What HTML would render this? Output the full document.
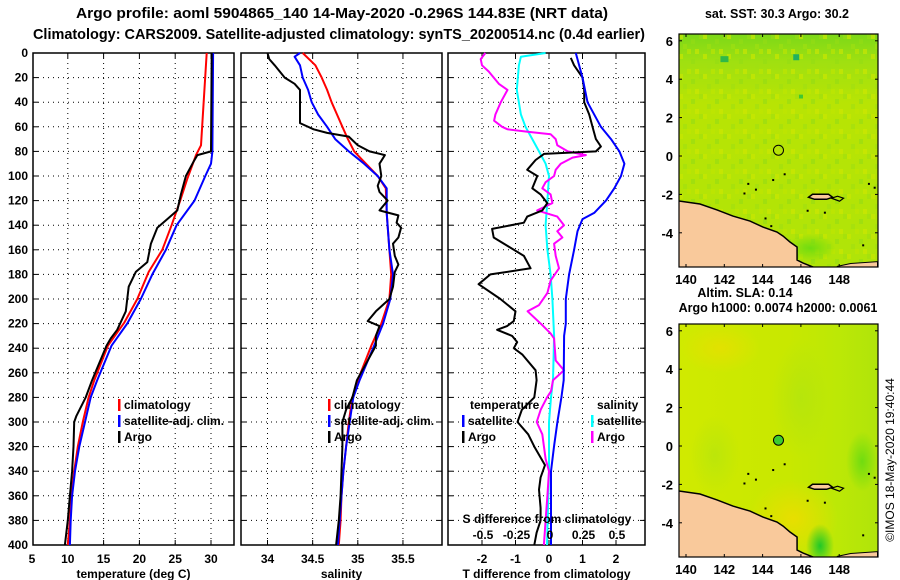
<!DOCTYPE html>
<html><head><meta charset="utf-8"><style>
body{margin:0;background:#fff;}
svg{display:block;font-family:"Liberation Sans",sans-serif;font-weight:bold;}
</style></head><body>
<svg id="c" width="900" height="580" viewBox="0 0 900 580">
<defs>
<clipPath id="cp1"><rect x="679" y="34" width="199" height="233"/></clipPath>
<clipPath id="cp2"><rect x="679" y="324" width="199" height="233"/></clipPath>
<radialGradient id="blob" cx="0.5" cy="0.5" r="0.5"><stop offset="0" stop-color="#20c828"/><stop offset="1" stop-color="#20c828" stop-opacity="0"/></radialGradient>
<radialGradient id="blob2" cx="0.5" cy="0.5" r="0.5"><stop offset="0" stop-color="#70dc10"/><stop offset="1" stop-color="#70dc10" stop-opacity="0"/></radialGradient>
<radialGradient id="blob3" cx="0.5" cy="0.5" r="0.5"><stop offset="0" stop-color="#f0dc00"/><stop offset="1" stop-color="#f0dc00" stop-opacity="0"/></radialGradient>
<radialGradient id="blob4" cx="0.5" cy="0.5" r="0.5"><stop offset="0" stop-color="#b0e410"/><stop offset="1" stop-color="#b0e410" stop-opacity="0"/></radialGradient>
<linearGradient id="topgr" x1="0" y1="0" x2="0" y2="1"><stop offset="0" stop-color="#7cd818"/><stop offset="0.12" stop-color="#a0e010"/><stop offset="0.3" stop-color="#b8e404"/><stop offset="1" stop-color="#b0e408"/></linearGradient>
<linearGradient id="botgr" x1="0" y1="0" x2="1" y2="0"><stop offset="0" stop-color="#d0ea00"/><stop offset="0.55" stop-color="#c8e800"/><stop offset="0.8" stop-color="#bce806"/><stop offset="1" stop-color="#b0e40a"/></linearGradient>
<pattern id="speck" x="679" y="34" width="24" height="20" patternUnits="userSpaceOnUse">
<rect x="0" y="0" width="4" height="5" fill="#c8e800" opacity="0.7"/>
<rect x="12" y="5" width="4" height="5" fill="#94dc14" opacity="0.6"/>
<rect x="4" y="10" width="4" height="5" fill="#a0e010" opacity="0.6"/>
<rect x="16" y="15" width="4" height="5" fill="#d0e800" opacity="0.6"/>
<rect x="20" y="0" width="4" height="5" fill="#9cde12" opacity="0.5"/>
<rect x="8" y="15" width="4" height="5" fill="#c0e600" opacity="0.6"/>
</pattern>
</defs>
<text x="342" y="18" text-anchor="middle" font-size="15" textLength="532" lengthAdjust="spacingAndGlyphs">Argo profile: aoml 5904865_140 14-May-2020 -0.296S 144.83E (NRT data)</text>
<text x="339" y="39" text-anchor="middle" font-size="15" textLength="612" lengthAdjust="spacingAndGlyphs">Climatology: CARS2009. Satellite-adjusted climatology: synTS_20200514.nc (0.4d earlier)</text>
<g id="g"></g>
</svg>
<script>
// ---- data ----
const depthTicks=[0,20,40,60,80,100,120,140,160,180,200,220,240,260,280,300,320,340,360,380,400];
const tTicks=[5,10,15,20,25,30];
const sTicks=[34,34.5,35,35.5];
const sTickLabels=["34","34.5","35","35.5"];
const dTTicks=[-2,-1,0,1,2];
const dSTicks=[-0.5,-0.25,0,0.25,0.5];
const dSTickLabels=["-0.5","-0.25","0","0.25","0.5"];

const tClimD=[0,75,83,102,120,140,160,178,200,219,238,266,280,300,320,340,360,380,400];
const tClimV=[29.4,28.6,27.9,26.7,25.7,24.5,23.2,21.3,19.7,17.9,15.6,13.7,12.9,12.1,11.4,10.9,10.5,10.3,10.0];
const tSatD=[0,80,90,100,120,140,160,180,200,220,238,266,280,300,320,340,360,380,400];
const tSatV=[30.3,30.2,30.0,29.2,27.7,25.2,23.7,21.8,20.2,18.3,16.1,14.1,13.2,12.4,11.6,11.0,10.6,10.4,10.3];
const tArgoD=[0,80,83,88,100,115,128,135,142,155,170,178,190,210,225,232,238,266,280,295,300,320,340,360,380,400];
const tArgoV=[30.1,30.0,28.1,27.6,26.5,25.8,25.3,23.9,22.5,21.6,21.1,19.5,18.5,18.1,16.9,16.0,15.4,13.4,12.5,11.2,10.9,10.8,10.6,10.3,10.0,9.6];

const sClimD=[0,10,20,30,40,50,60,70,80,90,100,110,130,160,180,200,220,238,266,280,300,320,340,360,380,400];
const sClimV=[34.39,34.53,34.60,34.66,34.71,34.77,34.83,34.89,34.96,35.09,35.22,35.31,35.32,35.35,35.37,35.35,35.26,35.15,35.0,34.94,34.90,34.87,34.84,34.82,34.81,34.79];
const sSatD=[0,3,10,20,30,40,50,60,70,80,90,100,110,130,160,180,200,220,238,266,280,300,320,340,360,380,400];
const sSatV=[34.36,34.30,34.36,34.39,34.45,34.49,34.56,34.66,34.75,34.90,35.07,35.22,35.32,35.32,35.35,35.39,35.36,35.28,35.18,35.02,34.95,34.91,34.87,34.84,34.82,34.80,34.78];
const sArgoD=[0,5,10,20,25,30,45,57,62,65,68,75,80,83,90,100,108,113,120,128,132,138,142,150,155,165,172,178,190,200,210,218,222,230,238,266,280,290,300,320,340,360,380,400];
const sArgoV=[34.0,34.02,34.08,34.19,34.30,34.36,34.36,34.36,34.51,34.66,34.90,35.0,35.13,35.30,35.24,35.26,35.22,35.24,35.33,35.24,35.45,35.43,35.48,35.45,35.39,35.41,35.45,35.41,35.39,35.35,35.20,35.11,35.24,35.20,35.20,34.99,34.94,34.87,34.83,34.83,34.82,34.81,34.79,34.76];

const dtSatD=[0,20,40,60,70,80,90,100,110,120,130,135,145,160,180,200,220,230,266,280,300,320,340,360,380,400];
const dtSatV=[0.8,1.0,1.15,1.55,1.85,2.1,2.25,2.15,1.95,1.7,1.35,1.0,0.85,0.75,0.6,0.5,0.5,0.45,0.44,0.37,0.25,0.15,0.06,0.06,0.06,0.06];
const dtArgoD=[4,10,20,30,40,50,60,70,76,80,82,87,95,100,110,115,122,128,133,138,143,150,165,175,180,188,200,210,218,222,225,230,235,240,245,258,266,280,290,300,310,320,335,345,355,370,380,390,400];
const dtArgoV=[0.65,0.75,1.0,1.05,1.05,1.2,1.3,1.4,1.55,1.4,-0.15,-0.4,-0.65,-0.35,-0.5,-0.25,-0.05,-0.2,-0.65,-0.75,-1.7,-1.65,-0.75,-0.55,-1.75,-2.1,-1.45,-1.0,-1.05,-1.25,-1.55,-1.1,-0.95,-1.05,-0.8,-0.4,-0.37,-0.44,-0.81,-0.94,-0.62,-0.44,-0.12,-0.25,-0.3,-0.25,-0.25,-0.37,-0.44];
const dsSatD=[0,3,10,30,50,60,70,80,90,100,120,140,160,180,200,230,266,280,300,320,340,360,380,400];
const dsSatV=[-0.025,-0.21,-0.225,-0.24,-0.21,-0.175,-0.125,-0.075,-0.025,0,-0.012,-0.025,-0.012,0.012,0.025,0.038,0.03,0.015,0,0,0,-0.005,-0.01,-0.015];
const dsArgoD=[0,5,10,15,25,30,40,50,55,60,62,64,66,70,75,80,83,85,90,95,100,105,110,115,122,128,133,140,145,150,155,165,175,185,195,205,210,220,228,232,250,258,266,275,280,290,300,310,330,340,360,380,400];
const dsArgoV=[-0.475,-0.51,-0.5,-0.45,-0.375,-0.31,-0.36,-0.4,-0.41,-0.35,-0.31,-0.16,0.012,0.05,0.062,0.14,0.275,0.175,0.088,0.05,0.038,-0.025,-0.05,0.012,0.025,-0.088,0.062,0.112,0.062,0.1,0.038,0.05,0.075,0.012,-0.012,-0.075,-0.16,-0.062,0.012,0.038,0.05,0.112,0.03,0.015,-0.015,-0.062,-0.092,-0.05,-0.025,0,-0.012,-0.025,-0.038];

const latTicks=[6,4,2,0,-2,-4];
const lonTicks=[140,142,144,146,148];
const floatLon=144.83, floatLat=0.3;
const coastLon=[139.6,140.73,141.62,142.45,143.34,144.02,144.75,145.07,145.43,145.8,145.8,146.1,146.63,146.63,139.6];
const coastLat=[-2.34,-2.5,-2.81,-3.13,-3.39,-3.7,-3.96,-4.17,-4.48,-4.74,-5.42,-5.57,-5.78,-5.9,-5.9];

// ---- scales ----
const Y0=53,Y1=545;
const yD=d=>Y0+d*(Y1-Y0)/400;
const P1={x0:33,x1:234}, P2={x0:241,x1:442}, P3={x0:448,x1:645};
const xT=t=>32+(t-5)*7.16;
const xS=s=>267.5+(s-34)*90.3;
const xDT=t=>549+t*33.5;
const xDS=s=>xDT(s*4);
const M1={x0:679,x1:878,y0:34,y1:267}, M2={x0:679,x1:878,y0:324,y1:557};
const mx=lon=>686+(lon-140)*19.15;
const myTop=lat=>156+(-lat)*19.2;
const myBot=lat=>446+(-lat)*19.2;

const NS="http://www.w3.org/2000/svg";
const G=document.getElementById('g');
function el(tag,attrs,parent){const e=document.createElementNS(NS,tag);for(const k in attrs)e.setAttribute(k,attrs[k]);(parent||G).appendChild(e);return e;}
function txt(x,y,s,size,anchor){const e=el('text',{x:x,y:y,'font-size':size,'text-anchor':anchor||'middle'});e.textContent=s;return e;}

function panel(P,name,xticks,xf,xlabels,xtitle){
  const g=el('g',{});
  
  
  depthTicks.forEach((d,i)=>{ if(i>0&&i<depthTicks.length-1){
    const l=el('line',{x1:P.x0,x2:P.x1,y1:yD(d),y2:yD(d),stroke:'#000','stroke-width':1,'stroke-dasharray':'1,4'},g);
    
    
    el('line',{x1:P.x0,x2:P.x0+5,y1:yD(d),y2:yD(d),stroke:'#000'},g);
    el('line',{x1:P.x1-5,x2:P.x1,y1:yD(d),y2:yD(d),stroke:'#000'},g);
  }});
  xticks.forEach((v,i)=>{const x=xf(v);
    if(x>P.x0+2&&x<P.x1-2){
      const l=el('line',{x1:x,x2:x,y1:Y0,y2:Y1,stroke:'#000','stroke-width':1,'stroke-dasharray':'1,4'},g);
      
      
      el('line',{x1:x,x2:x,y1:Y1-5,y2:Y1,stroke:'#000'},g);
      el('line',{x1:x,x2:x,y1:Y0,y2:Y0+5,stroke:'#000'},g);
    }
    const t=txt(x,563,xlabels[i],12);
    
    
  });
  const f=el('rect',{x:P.x0,y:Y0,width:P.x1-P.x0,height:Y1-Y0,fill:'none',stroke:'#000','stroke-width':1.5},g);
  
  
  const xt=txt((P.x0+P.x1)/2,578,xtitle,12);
  
  
  return g;
}
function line(D,V,xf,color,name,w){
  const pts=D.map((d,i)=>xf(V[i]).toFixed(1)+','+yD(d).toFixed(1)).join(' ');
  const p=el('polyline',{points:pts,fill:'none',stroke:color,'stroke-width':w||2,'stroke-linejoin':'round'});
  
  
}
function legend(x,y,color,label){
  const r=el('rect',{x:x,y:y-10,width:2.5,height:12,fill:color});
  
  
  const t=txt(x+6,y,label,12,'start');
  
  
}

panel(P1,'temperature-panel',tTicks,xT,tTicks.map(String),'temperature (deg C)');
panel(P2,'salinity-panel',sTicks,xS,sTickLabels,'salinity');
panel(P3,'difference-panel',dTTicks,xDT,dTTicks.map(String),'T difference from climatology');
depthTicks.forEach(d=>{
  const t=txt(28,yD(d)+4,String(d),12,'end');
  
  
});

line(tClimD,tClimV,xT,'#ff0000','temp-climatology-line');
line(tSatD,tSatV,xT,'#0000ff','temp-satellite-line');
line(tArgoD,tArgoV,xT,'#000000','temp-argo-line');
line(sClimD,sClimV,xS,'#ff0000','sal-climatology-line');
line(sSatD,sSatV,xS,'#0000ff','sal-satellite-line');
line(sArgoD,sArgoV,xS,'#000000','sal-argo-line');
line(dsSatD,dsSatV,xDS,'#00ffff','sdiff-satellite-line');
line(dsArgoD,dsArgoV,xDS,'#ff00ff','sdiff-argo-line');
line(dtArgoD,dtArgoV,xDT,'#000000','tdiff-argo-line');
line(dtSatD,dtSatV,xDT,'#0000ff','tdiff-satellite-line');

legend(118,409,'#ff0000','climatology');
legend(118,425,'#0000ff','satellite-adj. clim.');
legend(118,441,'#000000','Argo');
legend(328,409,'#ff0000','climatology');
legend(328,425,'#0000ff','satellite-adj. clim.');
legend(328,441,'#000000','Argo');
{const t=txt(470,409,'temperature',12,'start');}
{const t=txt(597,409,'salinity',12,'start');}
legend(462,425,'#0000ff','satellite');
legend(462,441,'#000000','Argo');
legend(591,425,'#00ffff','satellite');
legend(591,441,'#ff00ff','Argo');
{const t=txt(547,523,'S difference from climatology',12);}
dSTicks.forEach((s,i)=>{const t=txt(xDS(s)+1,539,dSTickLabels[i],12);
  
  });

// ---- maps ----
function coast(my,clip){
  const p=el('polygon',{points:coastLon.map((lo,i)=>mx(lo)+','+my(coastLat[i])).join(' '),fill:'#f9c99b',stroke:'#000','stroke-width':1.5,'clip-path':clip});
  
  
  const land2=[[147.9,-5.75],[148.6,-5.6],[150,-5.5],[150,-5.9],[147.9,-5.9]];
  el('polygon',{points:land2.map(a=>mx(a[0])+','+my(a[1])).join(' '),fill:'#f9c99b',stroke:'#000','stroke-width':1,'clip-path':clip});
  const isl=el('path',{d:`M${mx(146.4)} ${my(-2.15)} l4 -3 l16 0 l4 3 l-6 2 l-12 0 z`,fill:'#f9c99b',stroke:'#000','stroke-width':1.5});
  
  
  el('path',{d:`M${mx(147.6)} ${my(-2.2)} l6 -2 l6 2 l-4 3 z`,fill:'none',stroke:'#000','stroke-width':1.2});
  [[143.2,-1.4],[143.6,-1.7],[144.5,-1.2],[145.1,-0.9],[143.0,-1.9],[146.3,-2.8],[147.2,-2.9],[149.5,-1.4],[149.8,-1.6],[149.2,-4.6],[144.1,-3.2],[144.4,-3.6]].forEach(a=>{
    el('rect',{x:mx(a[0]),y:my(a[1]),width:2,height:2,fill:'#000'});
  });
}
function mapFrame(M,my,name){
  const f=el('rect',{x:M.x0,y:M.y0,width:M.x1-M.x0,height:M.y1-M.y0,fill:'none',stroke:'#000','stroke-width':1.2});
  
  
  latTicks.forEach(l=>{const y=my(l);
    el('line',{x1:M.x0,x2:M.x0+3,y1:y,y2:y,stroke:'#000'});
    el('line',{x1:M.x1-3,x2:M.x1,y1:y,y2:y,stroke:'#000'});
    const t=txt(673,y+5,String(l),13,'end');
    
    });
  lonTicks.forEach(l=>{const x=mx(l);
    el('line',{x1:x,x2:x,y1:M.y1-3,y2:M.y1,stroke:'#000'});
    el('line',{x1:x,x2:x,y1:M.y0,y2:M.y0+3,stroke:'#000'});
    const t=txt(x,M.y1+17,String(l),13);
    
    });
}
// top SST map
{const r=el('rect',{x:M1.x0,y:M1.y0,width:199,height:233,fill:'url(#topgr)'});
 
 
 el('rect',{x:M1.x0,y:M1.y0,width:199,height:233,fill:'url(#speck)'});
 el('ellipse',{cx:mx(146.5),cy:myTop(-4.8),rx:25,ry:14,fill:'url(#blob2)','clip-path':'url(#cp1)'});
 el('rect',{x:mx(141.8),y:myTop(5.2),width:8,height:6,fill:'#30b848'});
 el('rect',{x:mx(145.6),y:myTop(5.3),width:6,height:6,fill:'#20b060'});
 el('rect',{x:mx(145.9),y:myTop(3.2),width:4,height:4,fill:'#40c830'});
}
coast(myTop,'url(#cp1)');
mapFrame(M1,myTop,'sst-map');
{const c=el('circle',{cx:mx(floatLon),cy:myTop(floatLat),r:5,fill:'none',stroke:'#000','stroke-width':1});
 
 }
{const t=txt(777,18,'sat. SST: 30.3 Argo: 30.2',12.5);}
// bottom SLA map
{const r=el('rect',{x:M2.x0,y:M2.y0,width:199,height:233,fill:'url(#botgr)'});
 
 
 el('ellipse',{cx:mx(141.8),cy:myBot(5.1),rx:40,ry:25,fill:'url(#blob3)',opacity:0.6,'clip-path':'url(#cp2)'});
 el('ellipse',{cx:mx(145.6),cy:myBot(-3.8),rx:45,ry:40,fill:'url(#blob3)',opacity:0.8,'clip-path':'url(#cp2)'});
 el('ellipse',{cx:mx(146),cy:myBot(2.5),rx:30,ry:60,fill:'url(#blob4)',opacity:0.7,'clip-path':'url(#cp2)'});
 el('ellipse',{cx:mx(141.5),cy:myBot(-0.5),rx:25,ry:40,fill:'url(#blob4)',opacity:0.6,'clip-path':'url(#cp2)'});
 el('ellipse',{cx:mx(149.2),cy:myBot(-0.8),rx:16,ry:30,fill:'url(#blob2)','clip-path':'url(#cp2)'});
 el('ellipse',{cx:mx(147.0),cy:myBot(-5.2),rx:14,ry:22,fill:'url(#blob)','clip-path':'url(#cp2)'});
}
coast(myBot,'url(#cp2)');
mapFrame(M2,myBot,'sla-map');
{const c=el('circle',{cx:mx(floatLon),cy:myBot(floatLat),r:5,fill:'#3ccc30',stroke:'#000','stroke-width':1});
 
 }
{const t=txt(745,297,'Altim. SLA: 0.14',12.5);}
{const t=txt(778,312,'Argo h1000: 0.0074 h2000: 0.0061',12.5);}
{const t=el('text',{x:0,y:0,'font-size':12,'font-weight':'normal','text-anchor':'middle',transform:'translate(894,460) rotate(-90)'});
 t.textContent='©IMOS 18-May-2020 19:40:44';
 
 }
</script>
</body></html>
